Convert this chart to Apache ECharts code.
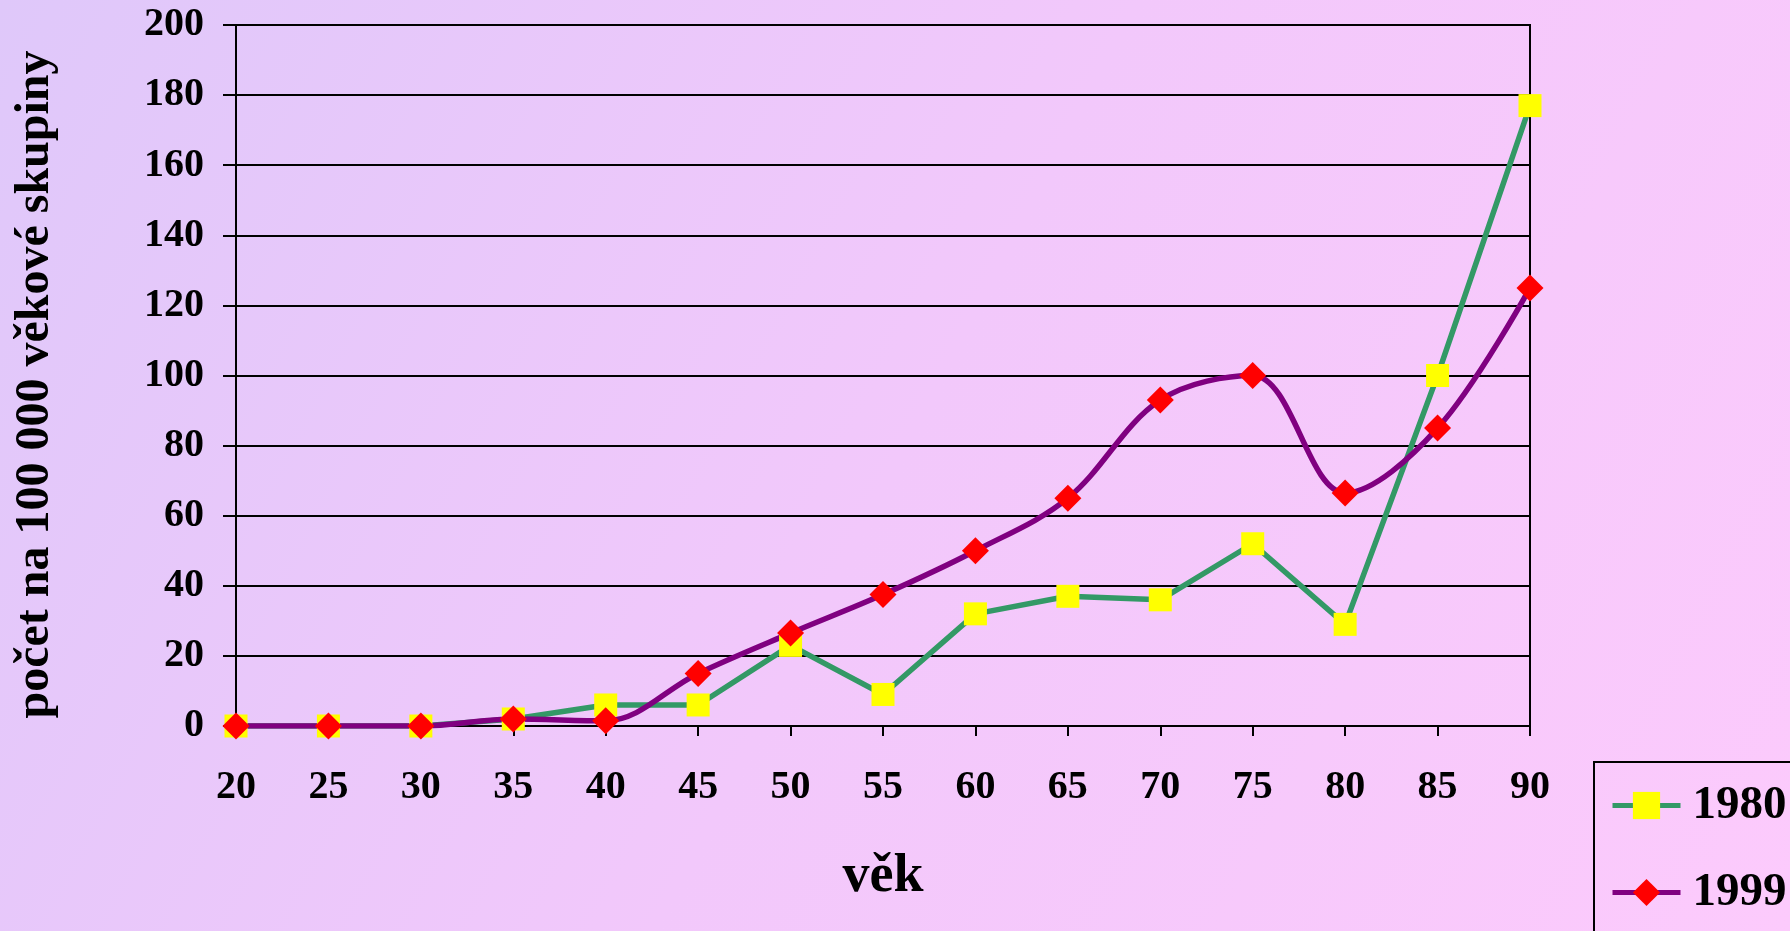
<!DOCTYPE html>
<html>
<head>
<meta charset="utf-8">
<style>
  html, body { margin: 0; padding: 0; }
  #chart { width: 1790px; height: 931px; }
</style>
<script src="https://cdn.jsdelivr.net/npm/echarts@6/dist/echarts.min.js"></script>
</head>
<body>
<div id="chart"></div>
<script>
// ---- data ----
const ages = [20, 25, 30, 35, 40, 45, 50, 55, 60, 65, 70, 75, 80, 85, 90];
const values1980 = [0, 0, 0, 2, 6, 6, 23, 9, 32, 37, 36, 52, 29, 100, 177];
const values1999 = [0, 0, 0, 2, 1.5, 15, 26.5, 37.5, 50, 65, 93, 100, 66.5, 85, 125];
const seriesNames = ['1980', '1999'];
const yTitle = 'počet na 100 000 věkové skupiny';
const xTitle = 'věk';

const FONT = '"Liberation Serif", "Times New Roman", serif';

const chart = echarts.init(document.getElementById('chart'), null, { renderer: 'canvas' });

const option = {
  animation: false,
  backgroundColor: {
    type: 'linear', x: 0, y: 0, x2: 1, y2: 1,
    colorStops: [
      { offset: 0, color: '#dfc8fa' },
      { offset: 0.5, color: '#f2c8fb' },
      { offset: 1, color: '#fccafc' }
    ]
  },
  grid: {
    left: 236, right: 260, top: 25, bottom: 205,
    show: true, borderColor: '#000', borderWidth: 2,
    containLabel: false
  },
  legend: {
    data: seriesNames,
    orient: 'vertical',
    left: 1594, top: 762,
    height: 300,
    padding: [20, 40, 30, 16],
    itemGap: 40,
    itemWidth: 68,
    itemHeight: 34,
    borderColor: '#000',
    borderWidth: 2,
    lineStyle: { width: 5 },
    textStyle: {
      fontFamily: FONT, fontWeight: 'bold', fontSize: 47, color: '#000',
      padding: [0, 0, 0, 7]
    }
  },
  xAxis: {
    type: 'value',
    min: 20, max: 90, interval: 5,
    name: xTitle,
    nameLocation: 'middle',
    nameGap: 124,
    nameTextStyle: { fontFamily: FONT, fontWeight: 'bold', fontSize: 54, color: '#000' },
    axisLine: { show: true, lineStyle: { color: '#000', width: 2 } },
    axisTick: { show: true, inside: false, length: 10, lineStyle: { color: '#000', width: 2 } },
    axisLabel: { fontFamily: FONT, fontWeight: 'bold', fontSize: 40, color: '#000', margin: 42 },
    splitLine: { show: false }
  },
  yAxis: {
    type: 'value',
    min: 0, max: 200, interval: 20,
    name: yTitle,
    nameLocation: 'middle',
    nameGap: 176,
    nameRotate: 90,
    nameTextStyle: {
      fontFamily: FONT, fontWeight: 'bold', fontSize: 48, color: '#000',
      padding: [0, 18, 0, 0]
    },
    axisLine: { show: true, lineStyle: { color: '#000', width: 2 } },
    axisTick: { show: true, inside: false, length: 13, lineStyle: { color: '#000', width: 2 } },
    axisLabel: { fontFamily: FONT, fontWeight: 'bold', fontSize: 40, color: '#000', margin: 32 },
    splitLine: { show: true, lineStyle: { color: '#000', width: 2 } }
  },
  series: [
    {
      name: seriesNames[0],
      type: 'line',
      data: ages.map((a, i) => [a, values1980[i]]),
      symbol: 'rect',
      symbolSize: 23,
      itemStyle: { color: '#ffff00' },
      lineStyle: { color: '#339966', width: 5.5 },
      smooth: false
    },
    {
      name: seriesNames[1],
      type: 'line',
      data: ages.map((a, i) => [a, values1999[i]]),
      symbol: 'diamond',
      symbolSize: 27,
      itemStyle: { color: '#ff0000' },
      lineStyle: { color: '#800080', width: 5.5 },
      smooth: 0.35
    }
  ]
};

chart.setOption(option);
</script>
</body>
</html>
